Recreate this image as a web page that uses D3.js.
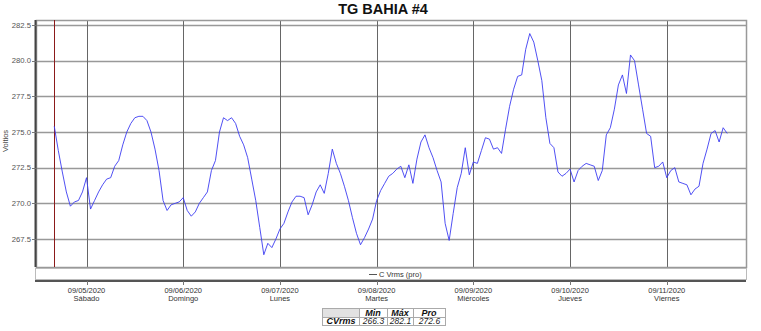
<!DOCTYPE html>
<html>
<head>
<meta charset="utf-8">
<script src="https://cdn.jsdelivr.net/npm/d3@7"></script>
<style>
  body { margin: 0; background: #fff; }
  svg { display: block; font-family: Arial, 'Liberation Sans', sans-serif; }
</style>
</head>
<body>
<div id="chart"></div>
<script>
// ========= Data ========= //
const title = 'TG BAHIA #4';
const seriesName = 'C Vrms (pro)';
const yLabel = 'Voltios';

// hourly readings (V); 09/04 starts at 16:00, the other days at 00:00
const sep04 = [275.4, 273.7, 272.2, 270.8, 269.8, 270.1, 270.2, 270.8];
const sep05 = [271.8, 269.6, 270.2, 270.8, 271.3, 271.7, 271.8, 272.6, 273.0, 274.1, 275.0, 275.6,
               276.0, 276.1, 276.1, 275.8, 275.0, 273.8, 272.3, 270.2, 269.5, 269.9, 270.0, 270.1];
const sep06 = [270.4, 269.5, 269.1, 269.4, 270.0, 270.4, 270.8, 272.3, 273.0, 275.0, 276.0, 275.8,
               276.0, 275.6, 274.7, 274.1, 273.2, 271.7, 270.2, 268.3, 266.4, 267.2, 266.9, 267.5];
const sep07 = [268.2, 268.6, 269.4, 270.1, 270.5, 270.5, 270.4, 269.2, 269.9, 270.8, 271.3, 270.7,
               272.1, 273.8, 272.8, 272.1, 271.2, 270.2, 269.0, 267.9, 267.1, 267.6, 268.2, 268.9];
const sep08 = [270.2, 270.9, 271.4, 271.9, 272.1, 272.4, 272.6, 271.8, 272.7, 271.4, 273.1, 274.3,
               274.8, 273.9, 273.2, 272.3, 271.5, 268.6, 267.4, 269.3, 271.1, 272.1, 273.9, 272.0];
const sep09 = [272.9, 272.8, 273.7, 274.6, 274.5, 273.8, 273.9, 273.5, 275.2, 276.8, 278.0, 278.9,
               279.0, 280.8, 281.9, 281.3, 280.0, 278.6, 276.0, 274.2, 273.9, 272.2, 271.9, 272.1];
const sep10 = [272.4, 271.5, 272.3, 272.6, 272.8, 272.7, 272.6, 271.6, 272.3, 274.8, 275.3, 276.6,
               278.3, 279.0, 277.7, 280.4, 280.0, 278.3, 276.6, 274.9, 274.7, 272.5, 272.6, 272.9];
const sep11 = [271.8, 272.3, 272.5, 271.5, 271.4, 271.3, 270.6, 271.0, 271.2, 272.8, 273.8, 274.9,
               275.1, 274.3, 275.3, 274.9];

const dayLabels = ['09/05/2020', '09/06/2020', '09/07/2020', '09/08/2020', '09/09/2020', '09/10/2020', '09/11/2020'];
const weekdays = ['Sábado', 'Domingo', 'Lunes', 'Martes', 'Miércoles', 'Jueves', 'Viernes'];
const yTicks = [267.5, 270.0, 272.5, 275.0, 277.5, 280.0, 282.5];

const statHeaders = ['Min', 'Máx', 'Pro'];
const statName = 'CVrms';
const statValues = [266.3, 282.1, 272.6];

// ========= Layout ========= //
const width = 761;
const height = 331;
const plot = { left: 36, right: 746, top: 20, bottom: 267 };

const dateParser = d3.timeParse('%m/%d/%Y');
const start = new Date(2020, 8, 4, 16);
const values = [].concat(sep04, sep05, sep06, sep07, sep08, sep09, sep10, sep11);
const points = values.map((v, i) => ({ t: d3.timeHour.offset(start, i), v }));
const days = dayLabels.map(dateParser);

// ========= Scales ========= //
const x = d3.scaleTime()
  .domain([new Date(2020, 8, 4, 11, 28), new Date(2020, 8, 11, 19, 40)])
  .range([plot.left, plot.right]);

const y = d3.scaleLinear()
  .domain([265.54, 282.85])
  .range([plot.bottom, plot.top]);

// ========= SVG ========= //
const svg = d3.select('#chart').append('svg')
  .attr('width', width)
  .attr('height', height);

svg.append('rect')
  .attr('width', width)
  .attr('height', height)
  .attr('fill', '#fff');

svg.append('text')
  .attr('x', 383)
  .attr('y', 14)
  .attr('text-anchor', 'middle')
  .attr('font-size', '14.5px')
  .attr('font-weight', 'bold')
  .attr('fill', '#111')
  .text(title);

// ========= Grid ========= //
svg.append('g')
  .selectAll('line')
  .data(yTicks)
  .join('line')
  .attr('x1', plot.left)
  .attr('x2', plot.right)
  .attr('y1', (d) => Math.round(y(d)) + 0.5)
  .attr('y2', (d) => Math.round(y(d)) + 0.5)
  .attr('stroke', '#999')
  .attr('stroke-width', 1.5);

svg.append('g')
  .selectAll('line')
  .data(days)
  .join('line')
  .attr('x1', (d) => Math.round(x(d)) + 0.5)
  .attr('x2', (d) => Math.round(x(d)) + 0.5)
  .attr('y1', plot.top)
  .attr('y2', plot.bottom)
  .attr('stroke', '#666')
  .attr('stroke-width', 1);

// frame
svg.append('rect')
  .attr('x', plot.left + 0.5)
  .attr('y', plot.top + 0.5)
  .attr('width', plot.right - plot.left)
  .attr('height', plot.bottom - plot.top)
  .attr('fill', 'none')
  .attr('stroke', '#999')
  .attr('stroke-width', 1.5);

svg.append('line')
  .attr('x1', plot.left - 0.5)
  .attr('x2', plot.left - 0.5)
  .attr('y1', plot.top)
  .attr('y2', plot.bottom)
  .attr('stroke', '#444')
  .attr('stroke-width', 2);

// start marker
svg.append('line')
  .attr('x1', Math.round(x(start)) + 0.5)
  .attr('x2', Math.round(x(start)) + 0.5)
  .attr('y1', plot.top)
  .attr('y2', plot.bottom)
  .attr('stroke', '#8b1a1a')
  .attr('stroke-width', 1);

// ========= Series ========= //
const line = d3.line()
  .x((d) => x(d.t))
  .y((d) => y(d.v));

svg.append('path')
  .datum(points)
  .attr('d', line)
  .attr('fill', 'none')
  .attr('stroke', '#3c3cf2')
  .attr('stroke-width', 0.9)
  .attr('stroke-linejoin', 'round');

// ========= Y axis ========= //
const yAxis = svg.append('g').attr('font-size', '7.7px').attr('fill', '#555');
yAxis.selectAll('text')
  .data(yTicks)
  .join('text')
  .attr('x', 31)
  .attr('y', (d) => y(d))
  .attr('dy', '0.35em')
  .attr('text-anchor', 'end')
  .text((d) => d.toFixed(1));

yAxis.selectAll('line')
  .data(yTicks)
  .join('line')
  .attr('x1', 32)
  .attr('x2', plot.left)
  .attr('y1', (d) => Math.round(y(d)) + 0.5)
  .attr('y2', (d) => Math.round(y(d)) + 0.5)
  .attr('stroke', '#777');

svg.append('text')
  .attr('transform', 'translate(8 141) rotate(-90)')
  .attr('text-anchor', 'middle')
  .attr('font-size', '7.5px')
  .attr('fill', '#444')
  .text(yLabel);

// ========= Legend strip ========= //
svg.append('rect')
  .attr('x', plot.left - 0.5)
  .attr('y', 268.5)
  .attr('width', plot.right - plot.left + 1)
  .attr('height', 11)
  .attr('fill', '#fff')
  .attr('stroke', '#bbb');

svg.append('line')
  .attr('x1', 369)
  .attr('x2', 377)
  .attr('y1', 274.5)
  .attr('y2', 274.5)
  .attr('stroke', '#555');

svg.append('text')
  .attr('x', 379)
  .attr('y', 277)
  .attr('font-size', '7.5px')
  .attr('fill', '#333')
  .text(seriesName);

// ========= X axis ========= //
svg.append('line')
  .attr('x1', plot.left - 1)
  .attr('x2', plot.right)
  .attr('y1', 281)
  .attr('y2', 281)
  .attr('stroke', '#555')
  .attr('stroke-width', 2);

const xAxis = svg.append('g').attr('font-size', '7.5px').attr('fill', '#333').attr('text-anchor', 'middle');
xAxis.selectAll('line')
  .data(days)
  .join('line')
  .attr('x1', (d) => Math.round(x(d)) + 0.5)
  .attr('x2', (d) => Math.round(x(d)) + 0.5)
  .attr('y1', 281)
  .attr('y2', 285)
  .attr('stroke', '#777');

xAxis.selectAll('.date')
  .data(days)
  .join('text')
  .attr('class', 'date')
  .attr('x', (d) => x(d))
  .attr('y', 293)
  .text((d, i) => dayLabels[i]);

xAxis.selectAll('.weekday')
  .data(days)
  .join('text')
  .attr('class', 'weekday')
  .attr('x', (d) => x(d))
  .attr('y', 301)
  .text((d, i) => weekdays[i]);

// ========= Stats table ========= //
const cols = [322, 359, 387, 413, 445];
const rows = [308, 316.5, 325];
const table = svg.append('g');

table.append('rect')
  .attr('x', cols[0] + 0.5)
  .attr('y', rows[0] + 0.5)
  .attr('width', cols[1] - cols[0])
  .attr('height', rows[1] - rows[0])
  .attr('fill', '#e2e2e2');

table.selectAll('.hline')
  .data(rows)
  .join('line')
  .attr('class', 'hline')
  .attr('x1', cols[0])
  .attr('x2', cols[4])
  .attr('y1', (d) => Math.round(d) + 0.5)
  .attr('y2', (d) => Math.round(d) + 0.5)
  .attr('stroke', '#aaa');

table.selectAll('.vline')
  .data(cols)
  .join('line')
  .attr('class', 'vline')
  .attr('x1', (d) => d + 0.5)
  .attr('x2', (d) => d + 0.5)
  .attr('y1', rows[0])
  .attr('y2', rows[2] + 1)
  .attr('stroke', '#aaa');

table.selectAll('.head')
  .data(statHeaders)
  .join('text')
  .attr('class', 'head')
  .attr('x', (d, i) => (cols[i + 1] + cols[i + 2]) / 2)
  .attr('y', rows[0] + 7.5)
  .attr('text-anchor', 'middle')
  .attr('font-size', '9px')
  .attr('font-weight', 'bold')
  .attr('font-style', 'italic')
  .attr('fill', '#111')
  .text((d) => d);

table.append('text')
  .attr('x', (cols[0] + cols[1]) / 2 + 0.5)
  .attr('y', rows[1] + 7.5)
  .attr('text-anchor', 'middle')
  .attr('font-size', '9px')
  .attr('font-weight', 'bold')
  .attr('font-style', 'italic')
  .attr('fill', '#111')
  .text(statName);

table.selectAll('.val')
  .data(statValues)
  .join('text')
  .attr('class', 'val')
  .attr('x', (d, i) => (cols[i + 1] + cols[i + 2]) / 2 + 0.5)
  .attr('y', rows[1] + 7.5)
  .attr('text-anchor', 'middle')
  .attr('font-size', '8.5px')
  .attr('font-style', 'italic')
  .attr('fill', '#222')
  .text((d) => d.toFixed(1));
</script>
</body>
</html>
